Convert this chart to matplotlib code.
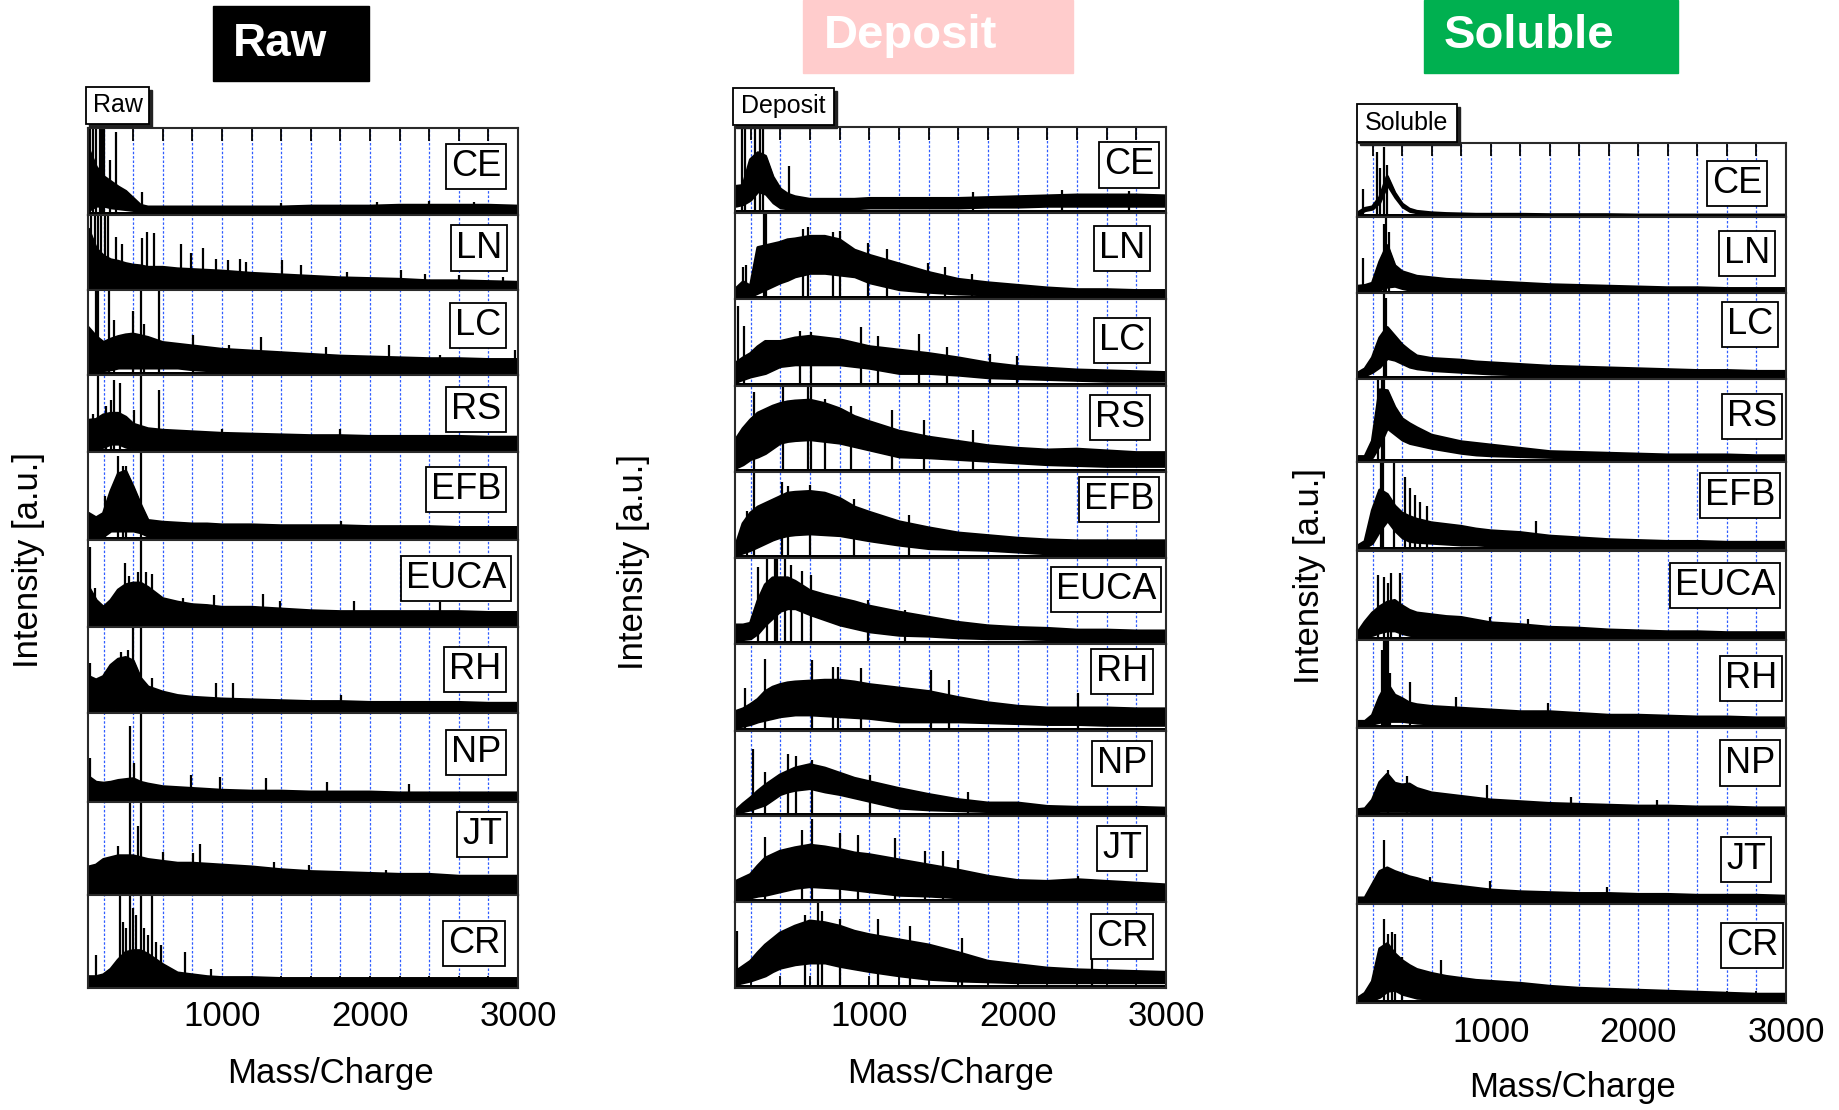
import numpy as np
import matplotlib.pyplot as plt
from matplotlib.patches import Rectangle
from matplotlib.ticker import FuncFormatter

plt.rcParams['font.family'] = ['Liberation Sans', 'DejaVu Sans']

# ---- data (intensity as fraction of panel height) ----
samples = ['CE', 'LN', 'LC', 'RS', 'EFB', 'EUCA', 'RH', 'NP', 'JT', 'CR']
mz = [100, 150, 200, 250, 300, 350, 400, 450, 500, 600, 700, 800, 900, 1000,
      1200, 1400, 1600, 1800, 2000, 2200, 2400, 2600, 2800, 3000]

raw_top = [
    [0.75, 0.55, 0.44, 0.38, 0.32, 0.27, 0.19, 0.11, 0.09, 0.09, 0.09, 0.09, 0.09, 0.09, 0.09, 0.09, 0.1, 0.1, 0.1, 0.11, 0.11, 0.11, 0.11, 0.1],
    [0.8, 0.55, 0.45, 0.4, 0.38, 0.35, 0.33, 0.32, 0.3, 0.3, 0.28, 0.27, 0.26, 0.25, 0.22, 0.2, 0.18, 0.16, 0.15, 0.14, 0.12, 0.12, 0.11, 0.1],
    [0.55, 0.45, 0.38, 0.42, 0.45, 0.47, 0.48, 0.46, 0.44, 0.38, 0.36, 0.34, 0.32, 0.3, 0.28, 0.26, 0.24, 0.22, 0.21, 0.2, 0.19, 0.19, 0.18, 0.18],
    [0.41, 0.42, 0.48, 0.5, 0.5, 0.45, 0.36, 0.33, 0.3, 0.28, 0.27, 0.26, 0.25, 0.24, 0.23, 0.22, 0.21, 0.21, 0.2, 0.2, 0.2, 0.2, 0.19, 0.19],
    [0.3, 0.25, 0.3, 0.55, 0.75, 0.78, 0.6, 0.4, 0.22, 0.2, 0.19, 0.18, 0.18, 0.17, 0.17, 0.16, 0.16, 0.16, 0.15, 0.15, 0.15, 0.14, 0.14, 0.14],
    [0.45, 0.3, 0.22, 0.3, 0.42, 0.48, 0.5, 0.5, 0.45, 0.32, 0.28, 0.25, 0.24, 0.22, 0.22, 0.2, 0.18, 0.17, 0.17, 0.17, 0.17, 0.17, 0.16, 0.16],
    [0.42, 0.38, 0.42, 0.55, 0.62, 0.64, 0.6, 0.4, 0.3, 0.24, 0.2, 0.18, 0.17, 0.16, 0.15, 0.14, 0.13, 0.13, 0.12, 0.12, 0.12, 0.12, 0.11, 0.11],
    [0.28, 0.22, 0.21, 0.22, 0.24, 0.25, 0.26, 0.22, 0.2, 0.17, 0.16, 0.15, 0.14, 0.13, 0.12, 0.12, 0.11, 0.11, 0.11, 0.1, 0.1, 0.1, 0.1, 0.1],
    [0.3, 0.32, 0.38, 0.4, 0.42, 0.42, 0.42, 0.4, 0.38, 0.36, 0.34, 0.34, 0.33, 0.32, 0.3, 0.27, 0.25, 0.24, 0.23, 0.22, 0.22, 0.2, 0.2, 0.2],
    [0.12, 0.12, 0.14, 0.2, 0.3, 0.38, 0.4, 0.4, 0.36, 0.25, 0.16, 0.14, 0.12, 0.11, 0.11, 0.1, 0.1, 0.1, 0.1, 0.1, 0.1, 0.1, 0.1, 0.1],
]
raw_low = [
    [0.05, 0.1, 0.1, 0.08, 0.07, 0.06, 0.05, 0.03, 0.03, 0.03, 0.03, 0.03, 0.03, 0.03, 0.03, 0.03, 0.03, 0.03, 0.03, 0.03, 0.03, 0.03, 0.03, 0.03],
    [0.04, 0.04, 0.04, 0.04, 0.04, 0.04, 0.04, 0.04, 0.04, 0.04, 0.04, 0.04, 0.04, 0.04, 0.04, 0.04, 0.04, 0.04, 0.04, 0.04, 0.04, 0.04, 0.04, 0.04],
    [0.05, 0.05, 0.05, 0.06, 0.08, 0.08, 0.08, 0.08, 0.08, 0.08, 0.08, 0.06, 0.05, 0.05, 0.05, 0.05, 0.05, 0.05, 0.05, 0.05, 0.05, 0.05, 0.05, 0.05],
    [0.04, 0.04, 0.06, 0.1, 0.1, 0.06, 0.04, 0.04, 0.04, 0.04, 0.04, 0.04, 0.04, 0.04, 0.04, 0.04, 0.04, 0.04, 0.04, 0.04, 0.04, 0.04, 0.04, 0.04],
    [0.03, 0.03, 0.04, 0.1, 0.1, 0.1, 0.1, 0.08, 0.04, 0.03, 0.03, 0.03, 0.03, 0.03, 0.03, 0.03, 0.03, 0.03, 0.03, 0.03, 0.03, 0.03, 0.03, 0.03],
    [0.03, 0.03, 0.03, 0.03, 0.03, 0.03, 0.03, 0.03, 0.03, 0.03, 0.03, 0.03, 0.03, 0.03, 0.03, 0.03, 0.03, 0.03, 0.03, 0.03, 0.03, 0.03, 0.03, 0.03],
    [0.03, 0.03, 0.03, 0.03, 0.05, 0.05, 0.05, 0.05, 0.03, 0.03, 0.03, 0.03, 0.03, 0.03, 0.03, 0.03, 0.03, 0.03, 0.03, 0.03, 0.03, 0.03, 0.03, 0.03],
    [0.03, 0.03, 0.03, 0.03, 0.03, 0.03, 0.03, 0.03, 0.03, 0.03, 0.03, 0.03, 0.03, 0.03, 0.03, 0.03, 0.03, 0.03, 0.03, 0.03, 0.03, 0.03, 0.03, 0.03],
    [0.04, 0.04, 0.04, 0.04, 0.04, 0.04, 0.04, 0.04, 0.04, 0.04, 0.04, 0.04, 0.04, 0.04, 0.04, 0.04, 0.04, 0.04, 0.04, 0.04, 0.04, 0.04, 0.04, 0.04],
    [0.03, 0.03, 0.03, 0.03, 0.03, 0.03, 0.03, 0.03, 0.03, 0.03, 0.03, 0.03, 0.03, 0.03, 0.03, 0.03, 0.03, 0.03, 0.03, 0.03, 0.03, 0.03, 0.03, 0.03],
]
raw_spikes = [
    [(106, 1), (128, 1), (151, 1), (173, 1), (189, 1), (200, 1), (245, 0.63), (281, 0.95), (458, 0.27),
     (1400, 0.14), (2050, 0.15), (2400, 0.16), (2700, 0.15)],
    [(117, 1), (139, 1), (162, 1), (184, 1), (207, 1), (229, 1), (285, 0.71), (324, 0.62), (458, 0.69), (494, 0.78),
     (544, 0.76), (724, 0.62), (791, 0.49), (870, 0.56), (959, 0.42), (1038, 0.4), (1121, 0.42), (1162, 0.38),
     (1409, 0.4), (1532, 0.33), (1847, 0.24), (2207, 0.27), (2375, 0.22), (2600, 0.2), (2900, 0.18)],
    [(151, 1), (162, 1), (240, 1), (274, 0.65), (398, 0.75), (454, 1), (476, 0.6), (577, 1), (802, 0.47),
     (1049, 0.35), (1263, 0.45), (1700, 0.33), (2128, 0.35), (2476, 0.24), (2980, 0.3)],
    [(128, 0.5), (162, 1), (218, 0.6), (252, 0.68), (274, 0.94), (308, 0.9), (409, 0.54), (454, 1), (577, 0.8),
     (1000, 0.3), (1800, 0.3)],
    [(207, 0.5), (297, 0.95), (330, 0.84), (353, 0.84), (454, 1), (1802, 0.22)],
    [(106, 0.92), (139, 0.44), (348, 0.73), (369, 0.58), (436, 0.63), (454, 1), (488, 0.63), (526, 0.61),
     (739, 0.33), (948, 0.36), (1279, 0.37), (1393, 0.3), (1892, 0.3), (2476, 0.28)],
    [(106, 0.58), (319, 0.71), (364, 0.73), (398, 1), (454, 1), (526, 0.4), (960, 0.35), (1072, 0.35), (1802, 0.21)],
    [(106, 0.5), (382, 0.85), (409, 0.44), (454, 1), (791, 0.3), (986, 0.28), (1297, 0.27), (1712, 0.22), (2263, 0.2)],
    [(297, 0.53), (382, 1), (431, 0.74), (454, 1), (604, 0.46), (802, 0.45), (852, 0.55), (1353, 0.35),
     (1589, 0.32), (2105, 0.27)],
    [(151, 0.36), (308, 1), (330, 0.71), (353, 0.64), (382, 1), (398, 0.86), (420, 0.78), (454, 1), (476, 0.64),
     (503, 0.57), (528, 1), (555, 0.5), (589, 0.46), (750, 0.39), (926, 0.2)],
]

dep_top = [
    [0.31, 0.32, 0.62, 0.7, 0.66, 0.42, 0.28, 0.22, 0.19, 0.16, 0.16, 0.16, 0.16, 0.17, 0.17, 0.17, 0.17, 0.18, 0.19, 0.2, 0.21, 0.21, 0.21, 0.2],
    [0.12, 0.2, 0.15, 0.6, 0.62, 0.64, 0.66, 0.69, 0.7, 0.73, 0.73, 0.69, 0.57, 0.51, 0.41, 0.31, 0.23, 0.19, 0.16, 0.13, 0.11, 0.11, 0.1, 0.1],
    [0.26, 0.32, 0.37, 0.45, 0.51, 0.51, 0.51, 0.53, 0.55, 0.57, 0.55, 0.53, 0.49, 0.45, 0.41, 0.37, 0.32, 0.26, 0.22, 0.2, 0.18, 0.17, 0.16, 0.15],
    [0.37, 0.5, 0.6, 0.68, 0.72, 0.76, 0.79, 0.81, 0.82, 0.83, 0.79, 0.73, 0.64, 0.58, 0.47, 0.4, 0.35, 0.3, 0.27, 0.25, 0.26, 0.24, 0.22, 0.22],
    [0.14, 0.4, 0.52, 0.59, 0.63, 0.67, 0.71, 0.75, 0.76, 0.77, 0.75, 0.69, 0.59, 0.53, 0.42, 0.35, 0.29, 0.26, 0.23, 0.21, 0.2, 0.2, 0.2, 0.2],
    [0.22, 0.22, 0.24, 0.5, 0.69, 0.77, 0.77, 0.77, 0.73, 0.62, 0.57, 0.53, 0.49, 0.44, 0.37, 0.31, 0.25, 0.21, 0.19, 0.18, 0.16, 0.16, 0.15, 0.15],
    [0.22, 0.25, 0.3, 0.36, 0.45, 0.5, 0.53, 0.55, 0.56, 0.57, 0.58, 0.58, 0.56, 0.53, 0.49, 0.45, 0.38, 0.32, 0.28, 0.26, 0.26, 0.26, 0.25, 0.25],
    [0.06, 0.14, 0.21, 0.29, 0.36, 0.42, 0.48, 0.52, 0.56, 0.6, 0.56, 0.5, 0.44, 0.4, 0.32, 0.25, 0.19, 0.15, 0.15, 0.11, 0.1, 0.1, 0.1, 0.09],
    [0.24, 0.28, 0.32, 0.42, 0.51, 0.55, 0.59, 0.61, 0.63, 0.66, 0.64, 0.61, 0.57, 0.55, 0.49, 0.43, 0.37, 0.3, 0.25, 0.24, 0.26, 0.24, 0.22, 0.2],
    [0.19, 0.25, 0.31, 0.41, 0.5, 0.57, 0.64, 0.68, 0.72, 0.78, 0.76, 0.72, 0.66, 0.62, 0.56, 0.5, 0.41, 0.31, 0.27, 0.23, 0.21, 0.2, 0.19, 0.18],
]
dep_low = [
    [0.08, 0.1, 0.15, 0.25, 0.22, 0.12, 0.06, 0.05, 0.05, 0.05, 0.05, 0.05, 0.05, 0.06, 0.06, 0.06, 0.06, 0.07, 0.07, 0.08, 0.08, 0.08, 0.08, 0.08],
    [0.03, 0.03, 0.03, 0.07, 0.11, 0.15, 0.19, 0.22, 0.26, 0.3, 0.3, 0.28, 0.26, 0.19, 0.11, 0.08, 0.06, 0.05, 0.05, 0.04, 0.04, 0.04, 0.04, 0.04],
    [0.04, 0.07, 0.1, 0.12, 0.14, 0.18, 0.22, 0.23, 0.24, 0.24, 0.24, 0.24, 0.22, 0.2, 0.14, 0.14, 0.12, 0.09, 0.08, 0.07, 0.06, 0.05, 0.05, 0.05],
    [0.04, 0.08, 0.14, 0.17, 0.21, 0.27, 0.33, 0.35, 0.36, 0.37, 0.35, 0.33, 0.29, 0.25, 0.17, 0.16, 0.14, 0.12, 0.1, 0.08, 0.07, 0.06, 0.06, 0.06],
    [0.03, 0.06, 0.09, 0.13, 0.17, 0.21, 0.24, 0.26, 0.27, 0.28, 0.27, 0.26, 0.23, 0.2, 0.15, 0.11, 0.1, 0.09, 0.07, 0.05, 0.05, 0.05, 0.05, 0.05],
    [0.05, 0.05, 0.06, 0.12, 0.22, 0.3, 0.38, 0.41, 0.41, 0.34, 0.28, 0.22, 0.18, 0.14, 0.1, 0.09, 0.07, 0.06, 0.06, 0.05, 0.05, 0.05, 0.05, 0.05],
    [0.04, 0.05, 0.07, 0.1, 0.12, 0.14, 0.16, 0.17, 0.18, 0.18, 0.17, 0.16, 0.15, 0.14, 0.1, 0.1, 0.1, 0.09, 0.08, 0.07, 0.07, 0.06, 0.06, 0.06],
    [0.03, 0.05, 0.07, 0.1, 0.13, 0.19, 0.25, 0.28, 0.3, 0.32, 0.28, 0.25, 0.21, 0.17, 0.09, 0.07, 0.06, 0.05, 0.05, 0.04, 0.04, 0.04, 0.04, 0.04],
    [0.04, 0.05, 0.05, 0.07, 0.08, 0.1, 0.12, 0.14, 0.16, 0.18, 0.17, 0.16, 0.14, 0.12, 0.08, 0.07, 0.05, 0.05, 0.05, 0.05, 0.05, 0.05, 0.05, 0.05],
    [0.04, 0.06, 0.08, 0.11, 0.14, 0.19, 0.23, 0.25, 0.27, 0.29, 0.29, 0.25, 0.22, 0.19, 0.14, 0.1, 0.08, 0.07, 0.06, 0.06, 0.06, 0.06, 0.06, 0.06],
]
dep_spikes = [
    [(139, 1), (162, 1), (229, 1), (263, 1), (285, 1), (461, 0.55), (1700, 0.25), (2300, 0.27), (2750, 0.26)],
    [(151, 0.38), (166, 0.4), (292, 1), (303, 1), (555, 0.82), (589, 0.84), (757, 0.78), (802, 0.8), (993, 0.65),
     (1117, 0.58), (1398, 0.42), (1510, 0.37), (1690, 0.3)],
    [(117, 0.92), (157, 0.69), (533, 0.63), (604, 0.62), (942, 0.68), (1056, 0.57), (1337, 0.6), (1521, 0.45),
     (1813, 0.37), (1993, 0.34)],
    [(225, 0.93), (420, 0.99), (589, 1), (607, 1), (700, 0.85), (880, 0.76), (1150, 0.72), (1370, 0.6), (1700, 0.48)],
    [(173, 0.55), (225, 1), (409, 0.88), (454, 0.83), (600, 0.85), (900, 0.68), (1270, 0.5)],
    [(252, 0.9), (308, 1), (364, 1), (375, 1), (431, 1), (472, 0.92), (544, 0.85), (607, 0.8), (993, 0.51), (1240, 0.4)],
    [(162, 0.49), (297, 0.83), (611, 0.82), (757, 0.74), (791, 0.74), (944, 0.72), (1416, 0.7), (1537, 0.58), (2409, 0.43)],
    [(213, 0.79), (297, 0.52), (454, 0.73), (503, 0.7), (611, 0.66), (1004, 0.48), (1667, 0.28)],
    [(297, 0.76), (544, 0.84), (611, 0.97), (802, 0.8), (926, 0.78), (1173, 0.74), (1375, 0.59), (1494, 0.59),
     (1600, 0.49), (2409, 0.3)],
    [(110, 0.66), (566, 0.85), (656, 1), (679, 0.9), (802, 0.8), (1061, 0.81), (1274, 0.72), (1622, 0.58), (2500, 0.4)],
]

sol_top = [
    [0.05, 0.11, 0.13, 0.26, 0.54, 0.32, 0.17, 0.1, 0.07, 0.05, 0.04, 0.035, 0.03, 0.03, 0.03, 0.025, 0.025, 0.025, 0.02, 0.02, 0.02, 0.02, 0.02, 0.02],
    [0.09, 0.1, 0.13, 0.41, 0.62, 0.36, 0.28, 0.25, 0.22, 0.2, 0.18, 0.17, 0.16, 0.15, 0.13, 0.11, 0.1, 0.09, 0.08, 0.07, 0.07, 0.06, 0.06, 0.06],
    [0.07, 0.12, 0.25, 0.48, 0.6, 0.5, 0.4, 0.33, 0.27, 0.24, 0.23, 0.22, 0.2, 0.19, 0.17, 0.15, 0.14, 0.13, 0.12, 0.11, 0.1, 0.1, 0.09, 0.09],
    [0.06, 0.06, 0.25, 0.87, 0.86, 0.66, 0.52, 0.46, 0.41, 0.32, 0.28, 0.24, 0.22, 0.2, 0.16, 0.12, 0.11, 0.1, 0.09, 0.08, 0.08, 0.08, 0.07, 0.07],
    [0.05, 0.1, 0.45, 0.68, 0.63, 0.5, 0.42, 0.38, 0.35, 0.31, 0.29, 0.27, 0.24, 0.22, 0.2, 0.16, 0.14, 0.12, 0.11, 0.1, 0.1, 0.09, 0.09, 0.09],
    [0.08, 0.2, 0.3, 0.37, 0.42, 0.44, 0.38, 0.33, 0.3, 0.28, 0.26, 0.25, 0.22, 0.19, 0.17, 0.14, 0.13, 0.11, 0.1, 0.09, 0.09, 0.08, 0.08, 0.08],
    [0.07, 0.07, 0.14, 0.35, 0.5, 0.37, 0.33, 0.28, 0.26, 0.24, 0.23, 0.22, 0.21, 0.2, 0.18, 0.18, 0.16, 0.14, 0.14, 0.13, 0.12, 0.12, 0.11, 0.11],
    [0.07, 0.08, 0.18, 0.38, 0.47, 0.37, 0.35, 0.36, 0.31, 0.26, 0.24, 0.22, 0.2, 0.18, 0.16, 0.14, 0.13, 0.12, 0.11, 0.11, 0.1, 0.1, 0.09, 0.09],
    [0.07, 0.07, 0.22, 0.37, 0.41, 0.37, 0.34, 0.31, 0.29, 0.24, 0.22, 0.2, 0.18, 0.16, 0.14, 0.13, 0.12, 0.12, 0.11, 0.11, 0.1, 0.1, 0.1, 0.09],
    [0.05, 0.1, 0.22, 0.55, 0.6, 0.5, 0.43, 0.38, 0.34, 0.3, 0.27, 0.25, 0.23, 0.22, 0.2, 0.17, 0.15, 0.14, 0.13, 0.12, 0.11, 0.1, 0.09, 0.09],
]
sol_low = [
    [0.03, 0.08, 0.1, 0.19, 0.42, 0.26, 0.13, 0.07, 0.05, 0.035, 0.025, 0.02, 0.02, 0.02, 0.02, 0.015, 0.015, 0.015, 0.015, 0.015, 0.015, 0.015, 0.015, 0.015],
    [0.03, 0.03, 0.03, 0.04, 0.08, 0.09, 0.06, 0.04, 0.03, 0.03, 0.03, 0.03, 0.03, 0.03, 0.03, 0.03, 0.03, 0.03, 0.03, 0.03, 0.03, 0.03, 0.03, 0.03],
    [0.03, 0.04, 0.08, 0.14, 0.24, 0.22, 0.18, 0.14, 0.12, 0.1, 0.09, 0.08, 0.07, 0.06, 0.05, 0.05, 0.05, 0.05, 0.05, 0.05, 0.05, 0.05, 0.05, 0.05],
    [0.03, 0.03, 0.05, 0.2, 0.4, 0.33, 0.26, 0.22, 0.2, 0.16, 0.13, 0.1, 0.08, 0.07, 0.06, 0.05, 0.04, 0.04, 0.04, 0.04, 0.04, 0.04, 0.04, 0.04],
    [0.03, 0.03, 0.08, 0.22, 0.33, 0.22, 0.14, 0.1, 0.09, 0.08, 0.07, 0.06, 0.06, 0.05, 0.05, 0.05, 0.05, 0.05, 0.05, 0.05, 0.05, 0.05, 0.05, 0.05],
    [0.03, 0.04, 0.05, 0.08, 0.1, 0.1, 0.07, 0.05, 0.04, 0.04, 0.04, 0.04, 0.04, 0.04, 0.04, 0.04, 0.04, 0.04, 0.04, 0.04, 0.04, 0.04, 0.04, 0.04],
    [0.03, 0.03, 0.04, 0.06, 0.07, 0.07, 0.07, 0.06, 0.05, 0.04, 0.04, 0.04, 0.04, 0.04, 0.04, 0.04, 0.04, 0.04, 0.04, 0.04, 0.04, 0.04, 0.04, 0.04],
    [0.04, 0.04, 0.04, 0.05, 0.05, 0.05, 0.05, 0.05, 0.04, 0.04, 0.04, 0.04, 0.04, 0.04, 0.04, 0.04, 0.04, 0.04, 0.04, 0.04, 0.04, 0.04, 0.04, 0.04],
    [0.04, 0.04, 0.04, 0.04, 0.05, 0.05, 0.04, 0.04, 0.04, 0.04, 0.04, 0.04, 0.04, 0.04, 0.04, 0.04, 0.04, 0.04, 0.04, 0.04, 0.04, 0.04, 0.04, 0.04],
    [0.03, 0.03, 0.03, 0.06, 0.12, 0.13, 0.09, 0.07, 0.05, 0.04, 0.04, 0.04, 0.04, 0.04, 0.04, 0.04, 0.04, 0.04, 0.04, 0.04, 0.04, 0.04, 0.04, 0.04],
]
sol_spikes = [
    [(139, 0.38), (229, 0.87), (252, 0.65), (281, 0.94), (297, 0.7)],
    [(139, 0.46), (280, 0.9), (292, 1), (310, 0.8)],
    [(281, 1), (290, 0.95)],
    [(240, 1), (263, 1), (281, 1)],
    [(258, 1), (274, 1), (348, 1), (420, 0.83), (454, 0.7), (488, 0.62), (521, 0.55), (566, 0.5), (1308, 0.33)],
    [(234, 0.73), (281, 0.7), (308, 0.64), (324, 0.75), (386, 0.75), (998, 0.26), (1252, 0.23)],
    [(263, 0.89), (281, 1), (292, 1), (303, 1), (319, 0.62), (454, 0.52), (764, 0.35), (1391, 0.28)],
    [(308, 0.52), (431, 0.45), (975, 0.35), (1544, 0.22), (2128, 0.18)],
    [(281, 0.73), (589, 0.31), (993, 0.26), (1791, 0.2)],
    [(281, 0.85), (308, 0.7), (330, 0.72), (353, 0.7), (398, 0.47), (667, 0.44)],
]

# ---- layout (pixels of the 1839x1110 canvas, y measured from the top) ----
W, H = 1839, 1110
raw_edges = [128, 215, 290, 375, 452, 540, 626.5, 713, 802, 895, 988]
dep_edges = [127, 213.3, 299.3, 385.7, 471.7, 558.3, 644, 730.7, 816, 902.3, 988]
sol_edges = [142.5, 216.7, 293.3, 379.3, 461.7, 550.5, 640, 727.7, 816, 904.3, 1003.3]
raw_lab_y = [0.44, 0.44, 0.42, 0.45, 0.43, 0.45, 0.5, 0.44, 0.35, 0.52]
dep_lab_y = [0.44, 0.41, 0.48, 0.37, 0.32, 0.36, 0.32, 0.38, 0.375, 0.4]
sol_lab_y = [0.55, 0.48, 0.36, 0.45, 0.38, 0.39, 0.44, 0.4, 0.49, 0.42]
raw_lab_dx = [12, 11, 12, 12, 12, 7, 12, 12, 11, 13]
dep_lab_dx = [7, 16, 16, 16, 7, 5, 13, 14, 19, 13]
sol_lab_dx = [19, 11, 8, 4, 6, 6, 4, 6, 15, 3]

fig = plt.figure(figsize=(W / 100, H / 100), dpi=100)


def rect(x0, y0, x1, y1, **kw):
    fig.patches.append(Rectangle((x0 / W, 1 - y1 / H), (x1 - x0) / W, (y1 - y0) / H,
                                 transform=fig.transFigure, **kw))


def column(x0, x1, edges, tops, lows, spikes, lab_y, lab_dx):
    width = x1 - x0
    for i, name in enumerate(samples):
        ax = fig.add_axes([x0 / W, 1 - edges[i + 1] / H, width / W, (edges[i + 1] - edges[i]) / H])
        ax.set_xlim(95, 3000)
        ax.set_ylim(0, 1)
        for g in range(200, 3000, 200):
            ax.axvline(g, color='#2f5cff', lw=0.9, ls=(0, (2, 1.5)), zorder=0)
        ax.fill_between(mz, lows[i], tops[i], color='black', lw=1.2, zorder=2)
        ax.plot(mz, tops[i], color='black', lw=2.4, zorder=2)
        ax.axhspan(0, 0.035, color='black', lw=0, zorder=2)
        sx = [s[0] for s in spikes[i]]
        sh = [s[1] for s in spikes[i]]
        ax.vlines(sx, 0, sh, color='black', lw=1.6, zorder=2)
        ax.set_yticks([])
        ax.set_xticks(range(200, 3001, 200))
        ax.xaxis.set_major_formatter(FuncFormatter(lambda v, p: '%d' % v if v % 1000 == 0 else ''))
        ax.tick_params(axis='x', direction='in', length=9, width=1.3, top=(i == 0),
                       bottom=(i == len(samples) - 1), labelbottom=(i == len(samples) - 1),
                       labelsize=25, pad=9)
        for sp in ax.spines.values():
            sp.set_linewidth(1.5)
            sp.set_color('#2a2a2a')
        ax.text(1 - (lab_dx[i] + 5) / width, 1 - lab_y[i], name, transform=ax.transAxes,
                ha='right', va='center', fontsize=26, zorder=10,
                bbox=dict(boxstyle='square,pad=0.14', fc='white', ec='black', lw=1.3))


column(88, 518, raw_edges, raw_top, raw_low, raw_spikes, raw_lab_y, raw_lab_dx)
column(735, 1166, dep_edges, dep_top, dep_low, dep_spikes, dep_lab_y, dep_lab_dx)
column(1357, 1786, sol_edges, sol_top, sol_low, sol_spikes, sol_lab_y, sol_lab_dx)

# big coloured headers
rect(213, 6, 369, 81, color='black')
fig.text(233 / W, 1 - 44 / H, 'Raw', color='white', fontsize=33, fontweight='bold', ha='left', va='center')
rect(803, 0, 1073, 73, color='#FFCCCC')
fig.text(824 / W, 1 - 36 / H, 'Deposit', color='white', fontsize=34, fontweight='bold', ha='left', va='center')
rect(1424, 0, 1678, 73, color='#00B050')
fig.text(1444 / W, 1 - 36 / H, 'Soluble', color='white', fontsize=34, fontweight='bold', ha='left', va='center')

# small boxed tags with shadow
for (bx0, by0, bx1, by1), tag in [((86, 87, 149, 124), 'Raw'),
                                  ((733, 88, 834, 125), 'Deposit'),
                                  ((1357, 104, 1457, 142), 'Soluble')]:
    rect(bx0 + 3, by0 + 3, bx1 + 3, by1 + 3, color='#222222')
    rect(bx0, by0, bx1, by1, fc='white', ec='black', lw=1.3)
    fig.text((bx0 + bx1) / 2 / W, 1 - (by0 + by1) / 2 / H, tag, fontsize=18, ha='center', va='center')

# axis titles
for x, y in [(29, 560), (633, 562), (1309, 576)]:
    fig.text(x / W, 1 - y / H, 'Intensity [a.u.]', rotation=90, fontsize=25, ha='center', va='center')
for x, y in [(330, 1073), (951, 1073), (1572, 1088)]:
    fig.text(x / W, 1 - y / H, 'Mass/Charge', fontsize=25, ha='center', va='center')

fig.savefig('out.png', dpi=100)
